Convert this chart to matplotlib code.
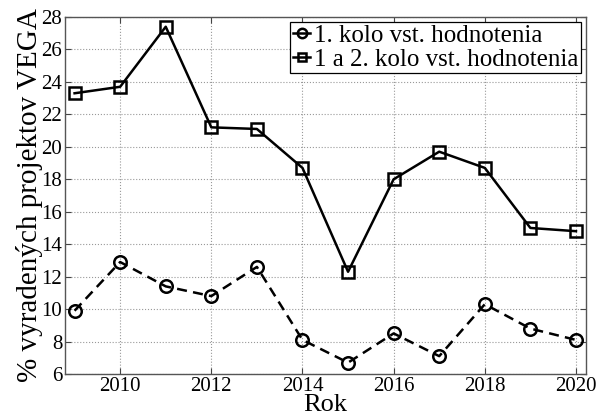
import matplotlib
matplotlib.use("Agg")
import matplotlib.pyplot as plt

years = [2009, 2010, 2011, 2012, 2013, 2014, 2015, 2016, 2017, 2018, 2019, 2020]
kolo1 = [9.9, 12.9, 11.4, 10.8, 12.6, 8.1, 6.7, 8.5, 7.1, 10.3, 8.8, 8.1]
kolo12 = [23.3, 23.7, 27.4, 21.2, 21.1, 18.7, 12.3, 18.0, 19.7, 18.7, 15.0, 14.8]
xticks = [2010, 2012, 2014, 2016, 2018, 2020]
yticks = [6, 8, 10, 12, 14, 16, 18, 20, 22, 24, 26, 28]

plt.rcParams['font.family'] = ['Liberation Serif', 'DejaVu Serif']

fig = plt.figure(figsize=(5.97, 4.18), dpi=100)
ax = fig.add_axes([65/597, 1-374/418, (586-65)/597, (374-17)/418])

ax.plot(years, kolo1, '--', color='black', lw=1.8, marker='o', markersize=9,
        markerfacecolor='none', markeredgewidth=1.8, dashes=(4, 2.5),
        label='1. kolo vst. hodnotenia')
ax.plot(years, kolo12, '-', color='black', lw=1.8, marker='s', markersize=8,
        markerfacecolor='none', markeredgewidth=1.8,
        label='1 a 2. kolo vst. hodnotenia')

ax.set_xlim(2008.79, 2020.22)
ax.set_ylim(6, 28)
ax.set_xticks(xticks)
ax.set_yticks(yticks)
ax.tick_params(direction='in', length=4, width=0.8, labelsize=15, color='#444444',
               top=True, right=True, pad=2)
ax.grid(True, linestyle=':', color='#999999', lw=0.8)
for s in ax.spines.values():
    s.set_color('#555555')
    s.set_linewidth(1.0)

ax.set_xlabel('Rok', fontsize=19, labelpad=-1)
ax.set_ylabel('% vyradených projektov VEGA', fontsize=21, labelpad=-1)

leg = ax.legend(loc='upper right', fontsize=18, frameon=True, fancybox=False,
                edgecolor='black', framealpha=1, handlelength=0.7,
                handletextpad=0.15, borderpad=0.1, labelspacing=0.05,
                borderaxespad=0.2, markerscale=0.75)
leg.get_frame().set_linewidth(0.9)
for h in leg.get_lines():
    h.set_linestyle('-')

fig.savefig('out.png', dpi=100)
